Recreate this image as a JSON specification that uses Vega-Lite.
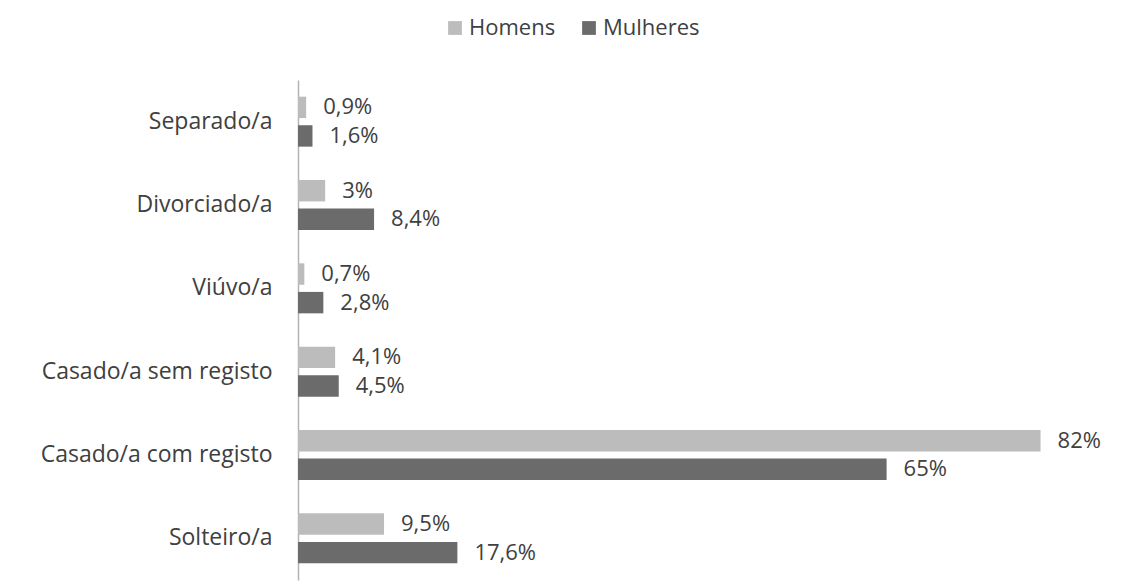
{
  "$schema": "https://vega.github.io/schema/vega-lite/v6.json",
  "width": 815,
  "height": 500,
  "autosize": {"type": "none"},
  "padding": {"left": 298, "top": 80, "right": 8, "bottom": 7},
  "background": "white",
  "config": {
    "view": {"stroke": null},
    "font": "Open Sans",
    "text": {"font": "Open Sans"}
  },
  "data": {
    "values": [
      {"estado": "Separado/a", "sexo": "Homens", "valor": 0.9},
      {"estado": "Separado/a", "sexo": "Mulheres", "valor": 1.6},
      {"estado": "Divorciado/a", "sexo": "Homens", "valor": 3},
      {"estado": "Divorciado/a", "sexo": "Mulheres", "valor": 8.4},
      {"estado": "Viúvo/a", "sexo": "Homens", "valor": 0.7},
      {"estado": "Viúvo/a", "sexo": "Mulheres", "valor": 2.8},
      {"estado": "Casado/a sem registo", "sexo": "Homens", "valor": 4.1},
      {"estado": "Casado/a sem registo", "sexo": "Mulheres", "valor": 4.5},
      {"estado": "Casado/a com registo", "sexo": "Homens", "valor": 82},
      {"estado": "Casado/a com registo", "sexo": "Mulheres", "valor": 65},
      {"estado": "Solteiro/a", "sexo": "Homens", "valor": 9.5},
      {"estado": "Solteiro/a", "sexo": "Mulheres", "valor": 17.6}
    ]
  },
  "transform": [
    {"calculate": "replace(format(datum.valor, '.1~f'), '.', ',') + '%'", "as": "rotulo"}
  ],
  "encoding": {
    "y": {
      "field": "estado",
      "type": "nominal",
      "sort": ["Separado/a", "Divorciado/a", "Viúvo/a", "Casado/a sem registo", "Casado/a com registo", "Solteiro/a"],
      "scale": {"paddingInner": 0.4, "paddingOuter": 0.2},
      "axis": {
        "title": null,
        "ticks": false,
        "domainColor": "#B4B4B4",
        "domainWidth": 1.5,
        "labelFontSize": 23,
        "labelColor": "#404040",
        "labelPadding": 26,
        "labelLimit": 300,
        "labelFont": "Open Sans"
      }
    },
    "yOffset": {
      "field": "sexo",
      "type": "nominal",
      "sort": ["Homens", "Mulheres"],
      "scale": {"paddingInner": 0.25}
    },
    "x": {
      "field": "valor",
      "type": "quantitative",
      "scale": {"domain": [0, 90]},
      "axis": null
    }
  },
  "layer": [
    {
      "mark": {"type": "bar"},
      "encoding": {
        "color": {
          "field": "sexo",
          "type": "nominal",
          "sort": ["Homens", "Mulheres"],
          "scale": {"domain": ["Homens", "Mulheres"], "range": ["#BCBCBC", "#6B6B6B"]},
          "legend": {
            "title": null,
            "orient": "none",
            "direction": "horizontal",
            "legendX": 146,
            "legendY": -63,
            "symbolType": "square",
            "symbolSize": 190,
            "symbolStrokeWidth": 0,
            "labelFontSize": 22,
            "labelColor": "#404040",
            "labelFont": "Open Sans",
            "columnPadding": 22,
            "labelOffset": 3
          }
        }
      }
    },
    {
      "mark": {"type": "text", "align": "left", "baseline": "middle", "dx": 17, "fontSize": 22, "color": "#404040"},
      "encoding": {"text": {"field": "rotulo"}}
    }
  ]
}
